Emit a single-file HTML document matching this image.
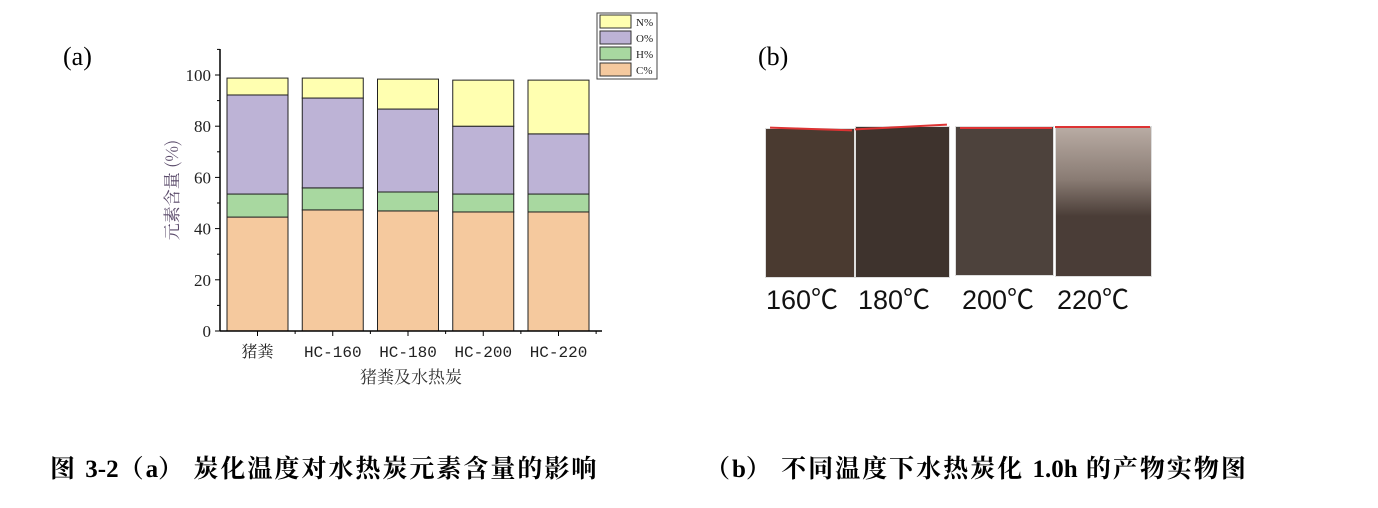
<!DOCTYPE html>
<html><head><meta charset="utf-8">
<style>
body{margin:0;background:#fff;width:1378px;height:508px;overflow:hidden;position:relative;font-family:"Liberation Serif","Noto Serif CJK SC",serif}
.abs{position:absolute}
.bag{position:absolute;border:1px solid #ddd}
.lbl{position:absolute;top:278px;font-family:"Liberation Sans","Noto Sans CJK SC",sans-serif;font-size:27px;color:#111}
.cap{position:absolute;top:449px;font-size:25px;letter-spacing:2px;font-weight:bold;font-family:"Liberation Serif","Noto Serif CJK SC",serif;color:#000;white-space:nowrap}
.cap span{letter-spacing:0}
</style></head><body>
<div class="abs" style="left:63px;top:42px;font-size:26px">(a)</div>
<div class="abs" style="left:758px;top:42px;font-size:26px">(b)</div>

<svg id="chart" class="abs" style="left:0;top:0" width="700" height="400" xmlns="http://www.w3.org/2000/svg"></svg>

<div>
<div class="bag" style="left:765px;top:128px;width:88px;height:148px;background:#4a3a30"></div>
<div class="bag" style="left:855px;top:126px;width:93px;height:150px;background:#3e332d"></div>
<div class="bag" style="left:955px;top:126px;width:97px;height:148px;background:#4d423c"></div>
<div class="bag" style="left:1055px;top:126px;width:95px;height:149px;background:linear-gradient(#b9aca4 0%,#8a7c74 35%,#4a3d37 60%)"></div>
<div class="abs" style="left:770px;top:128px;width:82px;height:2px;background:#d33;transform:rotate(2deg)"></div>
<div class="abs" style="left:855px;top:126px;width:92px;height:2px;background:#d33;transform:rotate(-3deg)"></div>
<div class="abs" style="left:960px;top:127px;width:92px;height:2px;background:#d33"></div>
<div class="abs" style="left:1055px;top:126px;width:95px;height:2px;background:#d33"></div>
<div class="lbl" style="left:766px">160℃</div>
<div class="lbl" style="left:858px">180℃</div>
<div class="lbl" style="left:962px">200℃</div>
<div class="lbl" style="left:1057px">220℃</div>
</div>

<div class="cap" style="left:50px">图 <span>3-2</span>（<span>a</span>） 炭化温度对水热炭元素含量的影响</div>
<div class="cap" style="left:705px">（<span>b</span>） 不同温度下水热炭化 <span>1.0h</span> 的产物实物图</div>

<script>
const categories=["猪粪","HC-160","HC-180","HC-200","HC-220"];
const cVals=[44.5,47.3,46.9,46.5,46.5];
const hVals=[9.0,8.6,7.4,7.0,7.0];
const oVals=[38.7,35.1,32.4,26.5,23.5];
const nVals=[6.6,7.8,11.7,18.0,21.0];
const yTicks=[0,20,40,60,80,100];
const seriesNames=["C%","H%","O%","N%"];
const colors=["#f5c99e","#a8d8a0","#bdb3d6","#ffffb0"];

const svg=document.getElementById('chart');
const NS="http://www.w3.org/2000/svg";
function el(t,a,txt){const e=document.createElementNS(NS,t);for(const k in a)e.setAttribute(k,a[k]);if(txt!==undefined)e.textContent=txt;svg.appendChild(e);return e;}
const x0=220,x1=602,yBase=331,pxPer=2.56;
const y=v=>yBase-v*pxPer;
const band=75.25;
const xc=i=>257.5+band*i;
const barW=61;
const series=[cVals,hVals,oVals,nVals];
categories.forEach((c,i)=>{
  let acc=0;
  series.forEach((s,k)=>{
    const r=el('rect',{x:xc(i)-barW/2,y:y(acc+s[i]),width:barW,height:s[i]*pxPer,fill:colors[k],stroke:'#222','stroke-width':1});
    
    
    acc+=s[i];
  });
  const t=el('text',{x:xc(i),y:357,'text-anchor':'middle','font-size':16,fill:'#222','font-family':'"Liberation Mono","Noto Serif CJK SC",monospace'},c);
  
  
  el('line',{x1:xc(i),x2:xc(i),y1:yBase,y2:yBase+5,stroke:'#000'});
  el('line',{x1:xc(i)+band/2,x2:xc(i)+band/2,y1:yBase,y2:yBase+3,stroke:'#000'});
});
const ya=el('line',{x1:x0,x2:x0,y1:49,y2:yBase,stroke:'#000','stroke-width':1.5});


const xa=el('line',{x1:x0,x2:x1,y1:yBase,y2:yBase,stroke:'#000','stroke-width':1.5});


yTicks.forEach(v=>{
  el('line',{x1:x0-5,x2:x0,y1:y(v),y2:y(v),stroke:'#000'});
  el('line',{x1:x0-3,x2:x0,y1:y(v+10),y2:y(v+10),stroke:'#000'});
  const t=el('text',{x:x0-9,y:y(v)+6,'text-anchor':'end','font-size':17,fill:'#222'},v);
  
  
});
const yt=el('text',{x:0,y:0,'text-anchor':'middle','font-size':17,fill:'#5a4a6a',transform:'translate(178,190) rotate(-90)','font-family':'"Noto Serif CJK SC",serif'},'元素含量 (%)');


const xt=el('text',{x:411,y:383,'text-anchor':'middle','font-size':17,fill:'#333','font-family':'"Noto Serif CJK SC",serif'},'猪粪及水热炭');


const lg=el('rect',{x:597,y:13,width:60,height:66,fill:'#fff',stroke:'#444'});


[3,2,1,0].forEach((k,j)=>{
  const r=el('rect',{x:600,y:15+j*16,width:31,height:13,fill:colors[k],stroke:'#333'});
  
  
  el('text',{x:636,y:26+j*16,'font-size':11,fill:'#222'},seriesNames[k]);
});
</script>
</body></html>
